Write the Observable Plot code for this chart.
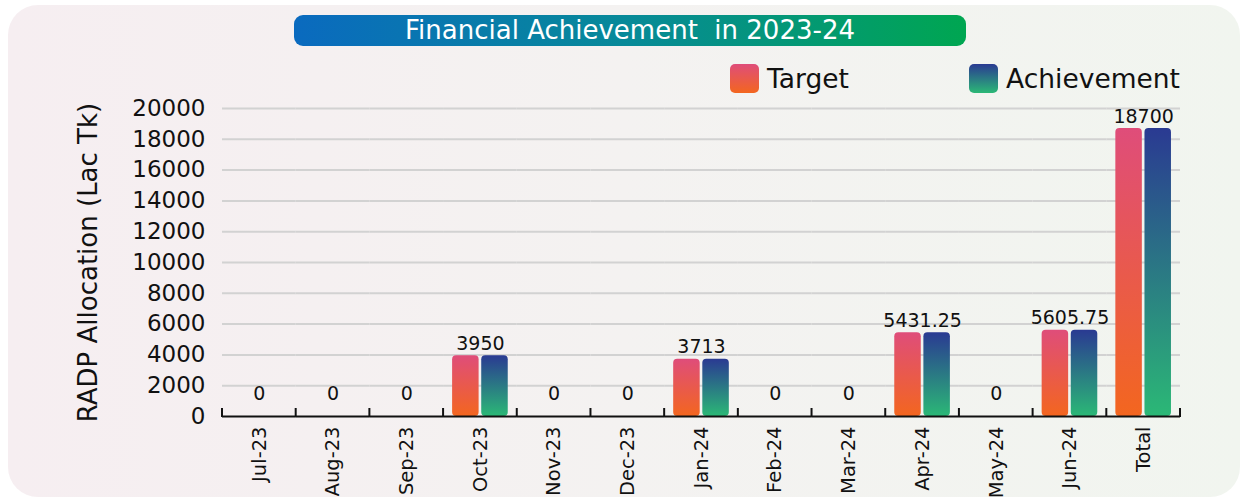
<!DOCTYPE html>
<html>
<head>
<meta charset="utf-8">
<script src="https://cdn.jsdelivr.net/npm/d3@7"></script>
<script src="https://cdn.jsdelivr.net/npm/@observablehq/plot@0.6"></script>
<style>
  html, body { margin: 0; padding: 0; background: #ffffff; }
  body { font-family: "DejaVu Sans", sans-serif; }
  #wrap { position: relative; width: 1248px; height: 502px; overflow: hidden; background: #ffffff; }
  #card { position: absolute; left: 8px; top: 5px; width: 1232px; height: 492px; border-radius: 30px;
          background: linear-gradient(90deg, #f6eef1 0%, #f4f2f1 50%, #f1f5ef 100%); }
  #title { position: absolute; left: 294px; top: 15px; width: 672px; height: 31px; border-radius: 9px;
           background: linear-gradient(90deg, #0a6abf 0%, #078a98 50%, #00a651 100%);
           color: #ffffff; font-size: 26px; line-height: 31px; text-align: center; white-space: pre; }
  .leg { position: absolute; top: 63px; height: 30px; display: flex; align-items: center; font-size: 26.5px; color: #111; }
  .sw { width: 29px; height: 29px; border-radius: 5px; margin-right: 8px; }
  #chart { position: absolute; left: 0; top: 0; }
</style>
</head>
<body>
<svg width="0" height="0" style="position:absolute">
  <defs>
    <linearGradient id="gradTarget" x1="0" y1="0" x2="0" y2="1">
      <stop offset="0%" stop-color="#df4d7a"/>
      <stop offset="100%" stop-color="#f3661f"/>
    </linearGradient>
    <linearGradient id="gradAch" x1="0" y1="0" x2="0" y2="1">
      <stop offset="0%" stop-color="#2a3a92"/>
      <stop offset="100%" stop-color="#2bb876"/>
    </linearGradient>
  </defs>
</svg>
<div id="wrap">
  <div id="card"></div>
  <div id="chart"></div>
  <div id="title"></div>
  <div class="leg" style="left:730px"><div class="sw" style="background:linear-gradient(180deg,#df4d7a,#f3661f)"></div><span id="legT"></span></div>
  <div class="leg" style="left:969px"><div class="sw" style="background:linear-gradient(180deg,#2a3a92,#2bb876)"></div><span id="legA"></span></div>
</div>
<script>
const titleText = "Financial Achievement  in 2023-24";
const yTitle = "RADP Allocation (Lac Tk)";
const seriesNames = ["Target", "Achievement"];
const categories = ["Jul-23","Aug-23","Sep-23","Oct-23","Nov-23","Dec-23","Jan-24","Feb-24","Mar-24","Apr-24","May-24","Jun-24","Total"];
const targetValues = [0, 0, 0, 3950, 0, 0, 3713, 0, 0, 5431.25, 0, 5605.75, 18700];
const achievementValues = [0, 0, 0, 3950, 0, 0, 3713, 0, 0, 5431.25, 0, 5605.75, 18700];
const yTicks = [0, 2000, 4000, 6000, 8000, 10000, 12000, 14000, 16000, 18000, 20000];

document.getElementById("title").textContent = titleText;
document.getElementById("legT").textContent = seriesNames[0];
document.getElementById("legA").textContent = seriesNames[1];

const bars = [];
categories.forEach((c, i) => {
  bars.push({cat: c, series: seriesNames[0], value: targetValues[i]});
  bars.push({cat: c, series: seriesNames[1], value: achievementValues[i]});
});
const labels = categories.map((c, i) => ({cat: c, value: targetValues[i], text: String(targetValues[i])}));

const chart = Plot.plot({
  width: 1248,
  height: 502,
  marginLeft: 222,
  marginRight: 68,
  marginTop: 108,
  marginBottom: 86,
  style: {background: "transparent", fontFamily: "DejaVu Sans, sans-serif", color: "#111"},
  fx: {domain: categories, padding: 0, round: false, label: null, axis: null},
  x: {domain: seriesNames, paddingInner: 0.09, paddingOuter: 0.31, round: false, axis: null},
  y: {domain: [0, 20000], axis: null},
  marks: [
    Plot.gridY(yTicks.slice(1), {stroke: "#d2d2d2", strokeOpacity: 1, strokeWidth: 2}),
    Plot.barY(bars, {fx: "cat", x: "series", y: "value", rx: 4,
      fill: d => d.series === seriesNames[0] ? "url(#gradTarget)" : "url(#gradAch)"}),
    Plot.ruleY([0], {stroke: "#111", strokeWidth: 2}),
    Plot.text(labels.filter(d => d.value > 0), {fx: "cat", y: "value", text: "text", lineAnchor: "bottom", dy: -6, fontSize: 19, fill: "#111"}),
    Plot.text(labels.filter(d => d.value === 0), {fx: "cat", y: "value", text: "text", lineAnchor: "bottom", dy: -17, fontSize: 19, fill: "#111"}),
    Plot.axisY({ticks: yTicks, tickFormat: d3.format("d"), tickSize: 0, tickPadding: 17, fontSize: 23, label: null, anchor: "left"}),
    Plot.axisY({ticks: [], tickSize: 0, label: yTitle, labelAnchor: "center", labelArrow: "none", labelOffset: 144, fontSize: 26, anchor: "left"}),
    Plot.axisFx({domain: categories, anchor: "bottom", tickSize: 0, tickPadding: 10, tickRotate: -90, fontSize: 19.5, label: null})
  ]
});
document.getElementById("chart").appendChild(chart);

// boundary ticks along the category axis, placed with Plot's own fx and y scales
const fx = chart.scale("fx");
const ys = chart.scale("y");
const y0 = ys.apply(0);
const edges = categories.map(c => fx.apply(c));
edges.push(fx.apply(categories[categories.length - 1]) + fx.bandwidth);
d3.select(chart).append("g")
  .attr("stroke", "#111").attr("stroke-width", 2)
  .selectAll("line").data(edges).join("line")
  .attr("x1", d => d).attr("x2", d => d)
  .attr("y1", y0 - 8).attr("y2", y0 + 1);
</script>
</body>
</html>
